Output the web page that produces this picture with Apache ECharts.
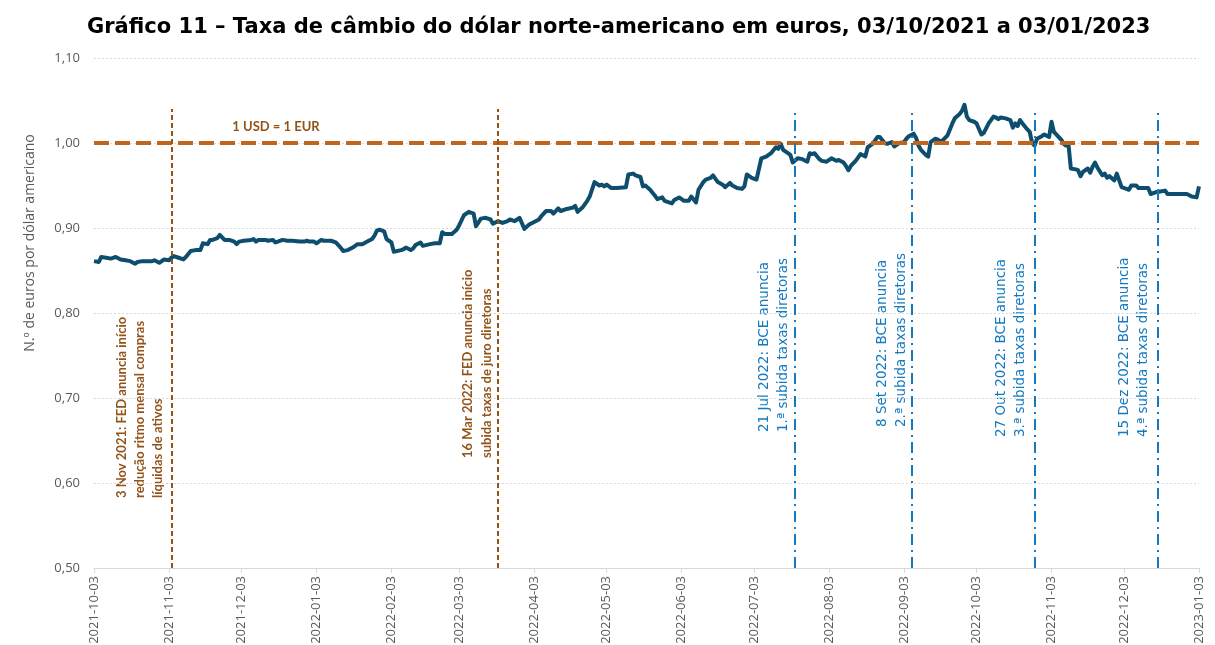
<!DOCTYPE html>
<html>
<head>
<meta charset="utf-8">
<title>Gráfico 11</title>
<script src="https://cdn.jsdelivr.net/npm/echarts@6/dist/echarts.min.js"></script>
<style>
  html, body { margin: 0; padding: 0; background: #fff; }
  #chart { width: 1215px; height: 645px; }
</style>
</head>
<body>
<div id="chart"></div>
<script>
// dados: dias desde 03/10/2021 e taxa EUR por USD
const startDate = '2021-10-03';
const endDate = '2023-01-03';
const dayOffsets = [0, 2, 3, 5, 7, 9, 11, 13, 15, 17, 18, 20, 22, 24, 25, 27, 28, 29, 31, 32, 33, 35, 37, 38, 40, 42, 44, 45, 47, 48, 49, 51, 52, 54, 56, 58, 59, 60, 62, 65, 66, 67, 68, 71, 72, 74, 75, 76, 78, 80, 82, 85, 87, 88, 89, 91, 92, 94, 95, 96, 98, 100, 102, 103, 105, 107, 109, 111, 113, 115, 116, 117, 118, 120, 121, 122, 123, 124, 127, 128, 129, 131, 132, 133, 135, 136, 139, 141, 143, 144, 145, 148, 150, 151, 153, 155, 157, 158, 160, 162, 164, 165, 167, 169, 171, 172, 174, 175, 176, 178, 180, 182, 184, 185, 187, 189, 190, 192, 193, 195, 198, 199, 200, 202, 204, 205, 207, 209, 210, 211, 212, 214, 216, 220, 221, 223, 224, 226, 227, 228, 230, 232, 233, 235, 236, 239, 240, 242, 244, 246, 247, 249, 250, 252, 253, 255, 256, 258, 260, 261, 263, 264, 266, 268, 269, 270, 272, 274, 276, 278, 280, 282, 283, 284, 285, 287, 288, 289, 291, 293, 295, 296, 297, 298, 300, 301, 303, 305, 307, 308, 310, 311, 312, 313, 315, 317, 319, 320, 322, 324, 325, 327, 328, 330, 331, 333, 335, 336, 337, 339, 340, 341, 342, 344, 345, 346, 348, 349, 350, 351, 353, 355, 356, 358, 359, 360, 361, 362, 364, 365, 367, 368, 370, 372, 373, 374, 375, 377, 379, 380, 381, 382, 383, 384, 386, 387, 388, 389, 390, 392, 393, 395, 396, 397, 399, 400, 401, 402, 403, 404, 406, 407, 408, 409, 411, 412, 413, 414, 415, 417, 418, 419, 420, 422, 423, 424, 425, 427, 428, 429, 431, 432, 434, 436, 437, 439, 441, 443, 444, 446, 449, 452, 454, 456, 457];
const rateValues = [0.861, 0.860, 0.866, 0.865, 0.864, 0.866, 0.863, 0.862, 0.861, 0.858, 0.860, 0.861, 0.861, 0.861, 0.862, 0.859, 0.861, 0.863, 0.862, 0.865, 0.867, 0.865, 0.863, 0.866, 0.873, 0.874, 0.874, 0.882, 0.881, 0.886, 0.886, 0.888, 0.892, 0.886, 0.886, 0.884, 0.881, 0.884, 0.885, 0.886, 0.887, 0.884, 0.886, 0.886, 0.885, 0.886, 0.883, 0.884, 0.886, 0.885, 0.885, 0.884, 0.884, 0.885, 0.884, 0.884, 0.882, 0.886, 0.885, 0.885, 0.885, 0.883, 0.877, 0.873, 0.874, 0.877, 0.881, 0.881, 0.884, 0.887, 0.891, 0.897, 0.898, 0.896, 0.887, 0.885, 0.883, 0.872, 0.874, 0.875, 0.877, 0.874, 0.876, 0.880, 0.883, 0.879, 0.881, 0.882, 0.882, 0.895, 0.893, 0.893, 0.898, 0.903, 0.915, 0.919, 0.917, 0.902, 0.911, 0.912, 0.910, 0.905, 0.908, 0.906, 0.908, 0.910, 0.908, 0.910, 0.912, 0.899, 0.904, 0.907, 0.910, 0.914, 0.920, 0.920, 0.917, 0.923, 0.920, 0.922, 0.924, 0.926, 0.919, 0.924, 0.932, 0.937, 0.954, 0.950, 0.951, 0.949, 0.951, 0.947, 0.947, 0.948, 0.963, 0.964, 0.962, 0.960, 0.949, 0.950, 0.945, 0.938, 0.934, 0.936, 0.932, 0.929, 0.933, 0.936, 0.932, 0.932, 0.937, 0.930, 0.945, 0.954, 0.957, 0.959, 0.962, 0.954, 0.951, 0.948, 0.953, 0.950, 0.947, 0.946, 0.949, 0.963, 0.959, 0.957, 0.982, 0.984, 0.988, 0.995, 0.993, 0.999, 0.992, 0.988, 0.986, 0.977, 0.982, 0.981, 0.978, 0.988, 0.987, 0.988, 0.981, 0.979, 0.978, 0.982, 0.979, 0.980, 0.977, 0.973, 0.968, 0.973, 0.979, 0.987, 0.984, 0.995, 0.999, 1.007, 1.007, 1.000, 0.999, 1.001, 0.996, 1.000, 1.001, 1.005, 1.008, 1.011, 1.006, 0.997, 0.992, 0.986, 0.984, 1.001, 1.005, 1.004, 1.002, 1.003, 1.009, 1.023, 1.029, 1.034, 1.038, 1.045, 1.031, 1.027, 1.025, 1.023, 1.010, 1.012, 1.023, 1.031, 1.030, 1.028, 1.030, 1.029, 1.027, 1.018, 1.023, 1.020, 1.027, 1.023, 1.016, 1.013, 1.000, 0.997, 1.005, 1.008, 1.010, 1.007, 1.025, 1.013, 1.007, 1.004, 0.999, 0.997, 0.999, 0.970, 0.969, 0.968, 0.961, 0.966, 0.970, 0.965, 0.972, 0.977, 0.971, 0.962, 0.964, 0.959, 0.961, 0.956, 0.964, 0.956, 0.948, 0.946, 0.945, 0.950, 0.950, 0.947, 0.947, 0.947, 0.940, 0.942, 0.943, 0.944, 0.940, 0.940, 0.940, 0.940, 0.937, 0.936, 0.949];
const tickDates = ['2021-10-03', '2021-11-03', '2021-12-03', '2022-01-03', '2022-02-03', '2022-03-03', '2022-04-03', '2022-05-03', '2022-06-03', '2022-07-03', '2022-08-03', '2022-09-03', '2022-10-03', '2022-11-03', '2022-12-03', '2023-01-03'];
const parityValue = 1.0;
const fedLineDates = ['2021-11-04', '2022-03-19'];
const bceLineDates = ['2022-07-20', '2022-09-06', '2022-10-27', '2022-12-17'];
const eventLineTop = 1.04;

const fedLabels = [
  '3 Nov 2021: FED anuncia início\nredução ritmo mensal compras\nlíquidas de ativos',
  '16 Mar 2022: FED anuncia início\nsubida taxas de juro diretoras'
];
const bceLabels = [
  '21 Jul 2022: BCE anuncia\n1.ª subida taxas diretoras',
  '8 Set 2022: BCE anuncia\n2.ª subida taxas diretoras',
  '27 Out 2022: BCE anuncia\n3.ª subida taxas diretoras',
  '15 Dez 2022: BCE anuncia\n4.ª subida taxas diretoras'
];

const BROWN = '#935419';
const ORANGE = '#C0651B';
const BLUE = '#1479BE';
const NAVY = '#0D4E6E';
const GREY = '#595959';

function toTime(str) {
  const [y, m, d] = str.split('-').map(Number);
  return new Date(y, m - 1, d).getTime();
}
function offsetToTime(days) {
  const [y, m, d] = startDate.split('-').map(Number);
  return new Date(y, m - 1, d + days).getTime();
}
function fmtDate(v) {
  const dt = new Date(v);
  const p = (n) => String(n).padStart(2, '0');
  return dt.getFullYear() + '-' + p(dt.getMonth() + 1) + '-' + p(dt.getDate());
}

const seriesData = dayOffsets.map((d, i) => [offsetToTime(d), rateValues[i]]);
const tickTimes = tickDates.map(toTime);

const eventLine = (date, style) => [
  { coord: [toTime(date), 0.5], lineStyle: style },
  { coord: [toTime(date), eventLineTop], lineStyle: style }
];
const fedStyle = { color: BROWN, width: 2, type: [5, 3] };
const bceStyle = { color: BLUE, width: 2, type: [11, 5, 2, 5] };

const rotatedText = (text, x, y, font, color, lh) => ({
  type: 'text',
  x: x, y: y,
  rotation: Math.PI / 2,
  silent: true,
  style: { text: text, font: font, fill: color, align: 'left', verticalAlign: 'top', lineHeight: lh }
});

const myChart = echarts.init(document.getElementById('chart'));
const option = {
  animation: false,
  backgroundColor: '#fff',
  title: {
    text: 'Gráfico 11 – Taxa de câmbio do dólar norte-americano em euros, 03/10/2021 a 03/01/2023',
    left: 82,
    top: 12,
    textStyle: { fontFamily: 'DejaVu Sans', fontWeight: 'bold', fontSize: 21, color: '#000' }
  },
  grid: { left: 94, right: 16, top: 58, bottom: 77, outerBoundsMode: 'none' },
  xAxis: {
    type: 'value',
    min: toTime(startDate),
    max: toTime(endDate),
    splitLine: { show: false },
    axisLine: { show: true, lineStyle: { color: '#D9D9D9', width: 1 } },
    axisTick: { show: true, length: 5, customValues: tickTimes, lineStyle: { color: '#D9D9D9' } },
    axisLabel: {
      customValues: tickTimes,
      rotate: 90,
      margin: 8,
      color: GREY,
      fontFamily: 'Open Sans',
      fontSize: 13,
      hideOverlap: false,
      formatter: fmtDate
    }
  },
  yAxis: {
    type: 'value',
    min: 0.5,
    max: 1.1,
    interval: 0.1,
    axisLine: { show: false },
    axisTick: { show: false },
    splitLine: { show: true, lineStyle: { color: '#D9D9D9', type: [2, 2], width: 1 } },
    axisLabel: {
      margin: 14,
      color: GREY,
      fontFamily: 'Open Sans',
      fontSize: 13,
      formatter: (v) => v.toFixed(2).replace('.', ',')
    }
  },
  series: [{
    type: 'line',
    data: seriesData,
    showSymbol: false,
    symbol: 'none',
    lineStyle: { color: NAVY, width: 4, join: 'round' },
    z: 3,
    markLine: {
      silent: true,
      symbol: ['none', 'none'],
      label: { show: false },
      data: [
        { yAxis: parityValue, lineStyle: { color: ORANGE, width: 4, type: [15, 6] } },
        ...fedLineDates.map((d) => eventLine(d, fedStyle)),
        ...bceLineDates.map((d) => eventLine(d, bceStyle))
      ]
    }
  }],
  graphic: [
    {
      type: 'text', x: 30, y: 243, rotation: Math.PI / 2, silent: true,
      style: { text: 'N.º de euros por dólar americano', font: '14px "Open Sans"', fill: GREY, align: 'center', verticalAlign: 'middle' }
    },
    {
      type: 'text', x: 276, y: 127, silent: true,
      style: { text: '1 USD = 1 EUR', font: 'bold 13px Lato', fill: BROWN, align: 'center', verticalAlign: 'middle' }
    },
    rotatedText(fedLabels[0], 113, 498, 'bold 13px Lato', BROWN, 18),
    rotatedText(fedLabels[1], 458, 458, 'bold 13px Lato', BROWN, 19),
    rotatedText(bceLabels[0], 755, 432, '13.5px "DejaVu Sans"', BLUE, 19),
    rotatedText(bceLabels[1], 873, 427, '13.5px "DejaVu Sans"', BLUE, 19),
    rotatedText(bceLabels[2], 992, 437, '13.5px "DejaVu Sans"', BLUE, 19),
    rotatedText(bceLabels[3], 1115, 437, '13.5px "DejaVu Sans"', BLUE, 19)
  ]
};
myChart.setOption(option);
</script>
</body>
</html>
